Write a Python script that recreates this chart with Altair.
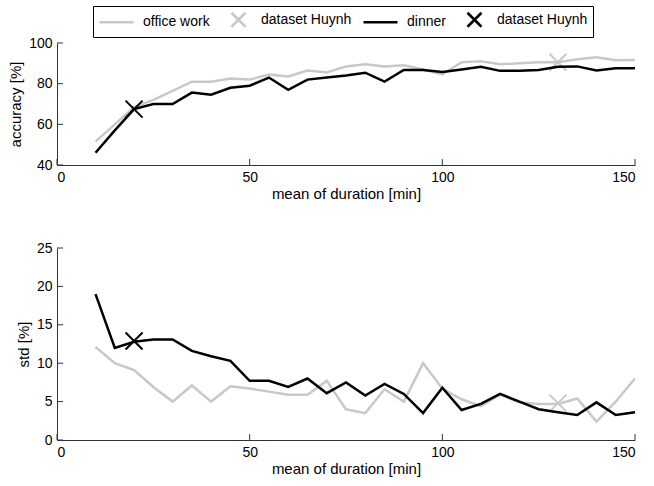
import altair as alt
import pandas as pd

# ---------------- data ----------------
durations = [10, 15, 20, 25, 30, 35, 40, 45, 50, 55, 60, 65, 70, 75, 80,
             85, 90, 95, 100, 105, 110, 115, 120, 125, 130, 135, 140, 145, 150]

acc_office = [51.5, 60.0, 68.5, 72.0, 76.5, 81.0, 81.0, 82.5, 82.0, 84.5, 83.5, 86.5, 85.5, 88.5, 89.5,
              88.5, 89.0, 87.0, 84.5, 90.5, 91.0, 89.5, 90.0, 90.5, 90.5, 92.0, 93.0, 91.5, 91.7]
acc_dinner = [46.0, 57.0, 67.5, 70.0, 70.0, 75.6, 74.6, 78.0, 79.0, 83.0, 77.0, 82.0, 83.0, 84.0, 85.4,
              81.0, 86.7, 86.7, 85.8, 87.0, 88.3, 86.3, 86.3, 86.7, 88.3, 88.5, 86.5, 87.6, 87.6]

std_office = [12.1, 10.0, 9.1, 6.9, 5.0, 7.1, 5.0, 7.0, 6.7, 6.3, 5.9, 5.9, 7.7, 4.0, 3.5,
              6.6, 5.0, 10.0, 6.7, 5.3, 4.4, 5.9, 4.9, 4.7, 4.7, 5.4, 2.4, 5.0, 8.0]
std_dinner = [19.0, 12.0, 12.8, 13.1, 13.1, 11.6, 10.9, 10.3, 7.7, 7.7, 6.9, 8.0, 6.1, 7.5, 5.8,
              7.3, 6.0, 3.5, 6.8, 3.9, 4.7, 6.0, 5.0, 4.0, 3.6, 3.25, 4.9, 3.25, 3.6]

huynh_x_office = 130
huynh_x_dinner = 20
huynh_acc_office = 90.5
huynh_acc_dinner = 67.5
huynh_std_office = 4.8
huynh_std_dinner = 12.9

x_ticks = [0, 50, 100, 150]
acc_ticks = [40, 60, 80, 100]
std_ticks = [0, 5, 10, 15, 20, 25]

series_names = ["office work", "dataset Huynh (office work)", "dinner", "dataset Huynh (dinner)"]

# ---------------- styles ----------------
GRAY = "#c8c8c8"
BLACK = "#000000"
AXIS_COLOR = "#333333"
FONT = "Liberation Sans"
# legend symbol paths (unit = 7 px with symbolSize 196)
LEG_LINE = "M-1,0L3.857,0"
LEG_X = "M1,-1L3,1M3,-1L1,1"
# marker drawn on the plots
X_MARK = "M-1,-1L1,1M1,-1L-1,1"
PLOT_W = 578

color_scale = alt.Scale(domain=series_names, range=[GRAY, GRAY, BLACK, BLACK])
shape_scale = alt.Scale(domain=series_names, range=[LEG_LINE, LEG_X, LEG_LINE, LEG_X])

legend_spec = alt.Legend(
    title=None,
    orient="none",
    legendX=36,
    legendY=-37,
    direction="horizontal",
    columns=4,
    symbolSize=196,
    symbolStrokeWidth=2.5,
    symbolOpacity=1,
    symbolFillColor="transparent",
    labelFont=FONT,
    labelFontSize=14,
    labelColor="black",
    labelOffset=28,
    columnPadding=6,
    padding=5,
    strokeColor="black",
    fillColor="white",
    labelExpr="indexof(datum.label, 'dataset Huynh') == 0 ? 'dataset Huynh' : datum.label",
)


def panel(office, dinner, hy_office, hy_dinner, ydomain, yticks, ytitle, height):
    x_enc = alt.X("x:Q", scale=alt.Scale(domain=[0, 150], nice=False),
                  axis=alt.Axis(values=x_ticks, title="mean of duration [min]", ticks=False,
                                labelPadding=5, titlePadding=2))
    y_enc = alt.Y("y:Q", scale=alt.Scale(domain=ydomain, nice=False, zero=False),
                  axis=alt.Axis(values=yticks, title=ytitle, ticks=False,
                                labelPadding=5, titlePadding=5))

    df_office = pd.DataFrame({"x": durations, "y": office})
    df_dinner = pd.DataFrame({"x": durations, "y": dinner})
    df_h_office = pd.DataFrame({"x": [huynh_x_office], "y": [hy_office], "series": [series_names[1]]})
    df_h_dinner = pd.DataFrame({"x": [huynh_x_dinner], "y": [hy_dinner], "series": [series_names[3]]})
    df_h_all = pd.concat([df_h_office, df_h_dinner], ignore_index=True)

    def line(df, color):
        return alt.Chart(df).mark_line(strokeWidth=2.5, color=color).encode(x=x_enc, y=y_enc)

    def marker(df, color):
        return alt.Chart(df).mark_point(shape=X_MARK, filled=False, size=289, strokeWidth=2,
                                        opacity=1, color=color).encode(x=x_enc, y=y_enc)

    # invisible layer that only carries the legend
    legend_layer = alt.Chart(df_h_all).mark_point(filled=False, opacity=0).encode(
        x=x_enc, y=y_enc,
        color=alt.Color("series:N", scale=color_scale, legend=legend_spec),
        shape=alt.Shape("series:N", scale=shape_scale, legend=legend_spec),
    )

    xt = alt.Chart(pd.DataFrame({"x": x_ticks})).mark_rule(color=AXIS_COLOR, strokeWidth=1).encode(
        x=x_enc, y=alt.value(height), y2=alt.value(height - 6))
    yt = alt.Chart(pd.DataFrame({"y": yticks})).mark_rule(color=AXIS_COLOR, strokeWidth=1).encode(
        y=y_enc, x=alt.value(0), x2=alt.value(6))

    return alt.layer(
        legend_layer,
        line(df_office, GRAY), marker(df_h_office, GRAY),
        line(df_dinner, BLACK), marker(df_h_dinner, BLACK),
        xt, yt
    ).properties(width=PLOT_W, height=height)


top = panel(acc_office, acc_dinner, huynh_acc_office, huynh_acc_dinner,
            [40, 100], acc_ticks, "accuracy [%]", 122)
bottom = panel(std_office, std_dinner, huynh_std_office, huynh_std_dinner,
               [0, 25], std_ticks, "std [%]", 192)

chart = alt.vconcat(top, bottom, spacing=40).properties(
    padding={"left": 8, "top": 5, "right": 5, "bottom": 5}
).configure_view(stroke=None).configure_axis(
    grid=False,
    domainColor=AXIS_COLOR,
    domainWidth=1,
    labelFont=FONT,
    labelFontSize=14,
    labelColor="black",
    titleFont=FONT,
    titleFontSize=15,
    titleFontWeight="normal",
    titleColor="black",
)

chart.save("out.html", embed_options={"renderer": "svg", "actions": False})
